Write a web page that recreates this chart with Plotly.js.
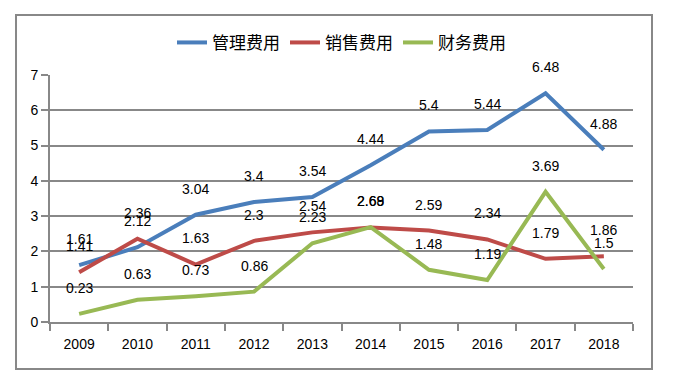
<!DOCTYPE html>
<html>
<head>
<meta charset="utf-8">
<script src="https://cdn.plot.ly/plotly-3.0.1.min.js"></script>
<style>html,body{margin:0;padding:0;background:#fff;}#chart{width:675px;height:374px;}</style>
</head>
<body>
<div id="chart"></div>
<script>
const years = ['2009','2010','2011','2012','2013','2014','2015','2016','2017','2018'];
const seriesNames = ['管理费用','销售费用','财务费用'];
const mgmt = [1.61, 2.12, 3.04, 3.4, 3.54, 4.44, 5.4, 5.44, 6.48, 4.88];
const sales = [1.41, 2.36, 1.63, 2.3, 2.54, 2.68, 2.59, 2.34, 1.79, 1.86];
const finance = [0.23, 0.63, 0.73, 0.86, 2.23, 2.69, 1.48, 1.19, 3.69, 1.5];
const colors = ['#4A7EBB', '#BE4B48', '#98B954'];

const allSeries = [mgmt, sales, finance];
const traces = allSeries.map((vals, i) => ({
  x: years, y: vals, type: 'scatter', mode: 'lines', name: seriesNames[i],
  line: {color: colors[i], width: 4}
}));

const annotations = [];
allSeries.forEach(vals => {
  vals.forEach((v, j) => {
    annotations.push({x: j, y: v, xref: 'x', yref: 'y', text: String(v),
      showarrow: false, yshift: 26, font: {family: 'Liberation Sans', size: 14, color: '#000'}});
  });
});

const layout = {
  width: 675, height: 374,
  margin: {l: 50, r: 42, t: 75, b: 52, autoexpand: false},
  paper_bgcolor: '#fff', plot_bgcolor: '#fff',
  showlegend: true,
  legend: {orientation: 'h', x: 0.5, xanchor: 'center', y: 1.13, yanchor: 'middle', bgcolor: 'rgba(0,0,0,0)',
    font: {family: 'Noto Sans CJK SC', size: 17, color: '#000'}, traceorder: 'normal'},
  xaxis: {type: 'category', range: [-0.5, 9.5], showgrid: false, zeroline: false,
    showline: true, linecolor: '#888', linewidth: 2, ticks: 'outside', tickson: 'boundaries',
    ticklen: 7, tickwidth: 2, tickcolor: '#888', ticklabelstandoff: 8,
    tickfont: {family: 'Liberation Sans', size: 14, color: '#000'}, fixedrange: true},
  yaxis: {range: [0, 7], dtick: 1, showgrid: true, gridcolor: '#888', gridwidth: 2, zeroline: false,
    showline: true, linecolor: '#888', linewidth: 2, ticks: 'outside', ticklen: 7, tickwidth: 2, tickcolor: '#888',
    tickfont: {family: 'Liberation Sans', size: 14, color: '#000'}, fixedrange: true},
  annotations: annotations,
  shapes: [{type: 'rect', xref: 'paper', yref: 'paper', x0: -0.0583, x1: 1.0326, y0: -0.1903, y1: 1.2429,
    line: {color: '#888', width: 2}, fillcolor: 'rgba(0,0,0,0)', layer: 'below'}]
};

Plotly.newPlot('chart', traces, layout, {displayModeBar: false});
</script>
</body>
</html>
